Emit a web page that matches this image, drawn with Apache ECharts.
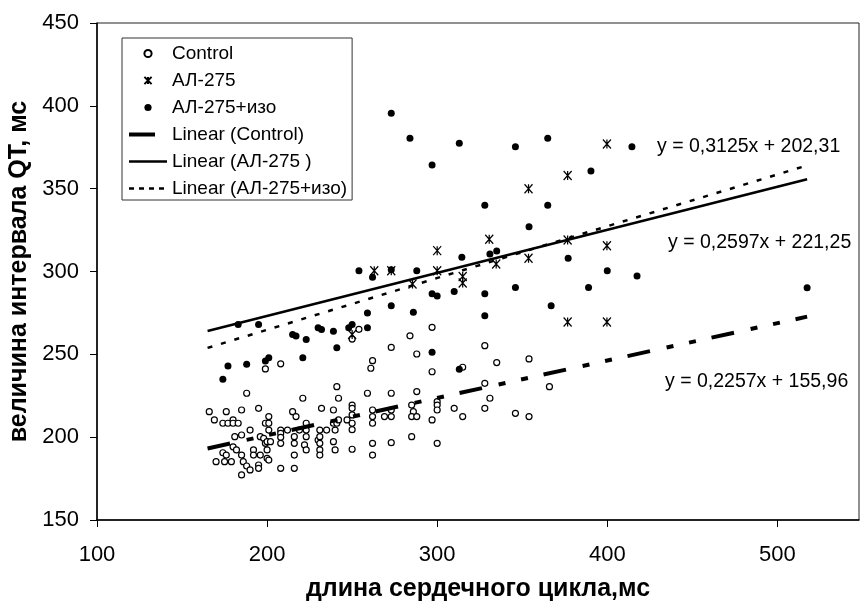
<!DOCTYPE html>
<html>
<head>
<meta charset="utf-8">
<style>
  html, body { margin: 0; padding: 0; background: #fff; }
  #chart { width: 863px; height: 604px; }
</style>
<script src="https://cdn.jsdelivr.net/npm/echarts@6/dist/echarts.min.js"></script>
</head>
<body>
<div id="chart"></div>
<script>
// точки [длина цикла, QT]
const controlPts = [
  [166,215.4],[169,210.4],[170,185.2],[174,208.4],[174,190.6],[175,185.2],[176,215.4],[176,189.2],[177,208.4],[179,185.2],
  [180,210.4],[180,208.4],[180,194.2],[181,200.3],[182,192.3],[183,208.4],[185,216.4],[185,201.3],[185,189.2],[185,177.2],
  [186,185.2],[188,226.5],[188,182.6],[190,204.3],[190,180.2],[192,192.3],[192,189.2],[195,217.4],[195,183.2],[195,181.2],
  [196,200.3],[196,189.2],[198,199.3],[199,208.4],[199,196.3],[200,197.3],[200,192.3],[200,187.2],[201,212.4],[201,208.4],
  [201,204.3],[201,186.2],[202,197.3],[208,204.3],[208,202.3],[208,199.9],[208,196.3],[208,181.2],[212,204.3],[215,215.4],
  [216,200.3],[216,196.3],[216,189.2],[216,181.2],[217,212.4],[219,204.3],[221,223.5],[222,195.3],[223,208.4],[223,204.3],
  [223,200.3],[223,192.3],[230,198.3],[231,204.3],[231,200.3],[231,196.3],[231,192.3],[231,189.2],[232,217.4],[235,204.3],
  [239,216.4],[239,208.4],[239,197.3],[240,204.3],[240,192.3],[241,208.4],[241,230.5],[242,223.5],[242,210.4],
  [199,241.2],[208,244.3],[247,210.4],[250,219.4],[250,217.4],[250,213.4],[250,208.4],[250,204.5],[250,192.7],[250,259.2],
  [254,265.1],[259,226.5],[261,241.6],[262,246.2],[262,216.4],[262,212.4],[262,208.4],[262,196.3],[262,189.2],[269,212.4],
  [273,226.5],[273,216.4],[273,212.4],[273,196.7],[273,254.2],[284,261.2],[285,219.4],[286,215.4],[285,212.4],[288,212.4],
  [285,200.3],[288,227.5],[288,250.2],[297,266.3],[297,239.5],[297,210.4],[300,221.4],[300,219.4],[300,216.4],[300,196.3],
  [310,217.4],[315,242.2],[315,212.4],[328,255.2],[328,232.5],[331,223.5],[328,217.4],[335,245],[346,214.4],[354,212.4],
  [354,247.2],[366,230.5]
];

const al275Pts = [
  [250,262],[263,300.5],[273,300.5],[285.5,292.5],[300,312.6],[300,300.5],[315,297],[315,293],[330.6,319.4],
  [334.7,304.5],[353.7,350],[353.7,308],[376.7,358],[376.7,319],[376.7,269.5],[399.8,377],[399.8,315.6],[399.8,269.5]
];

const al275IzoPts = [
  [174,235],[177,243],[183,268],[188,244],[195,268],[199,246],[201,248],[215,262],[217,261],[221,248],
  [223,259],[230,266],[232,265],[239,264],[241,254],[248,266],[250,268],[254,300.5],[259,275],[259,266],
  [262,296.5],[273,395.5],[273,301],[273,279.4],[284,380.4],[286,275.4],[288,300.5],[297,364.3],[297,286.5],[300,285.2],
  [297,251.2],[310,288],[313,377.4],[313,241],[314.5,308.6],[328,340],[328,286.5],[328,273.3],[331,310.6],[335,312.4],
  [346,375.3],[346,290.4],[354,327],[365,380.4],[365,340],[367,279.4],[377,308],[389,290.4],[390.4,360.7],[400,300.5],
  [414.5,375.3],[417.5,297.3],[517.5,290.2]
];

// линейные тренды из подписей на графике
const trendNames = ['Linear (Control)', 'Linear (АЛ-275 )', 'Linear (АЛ-275+изо)'];
const trendSlope = [0.2257, 0.2597, 0.3125];
const trendIntercept = [155.96, 221.25, 202.31];
const trendXRange = [165, 517.5];
const eqTexts = ['y = 0,2257x + 155,96', 'y = 0,2597x + 221,25', 'y = 0,3125x + 202,31'];

const FONT = "'Liberation Sans', Arial, sans-serif";

function trendLine(i) {
  return trendXRange.map(x => [x, trendSlope[i] * x + trendIntercept[i]]);
}

const chart = echarts.init(document.getElementById('chart'));

const pointSeries = (name, data, extra) => Object.assign({
  name: name,
  type: 'line',
  data: data,
  showSymbol: true,
  lineStyle: { width: 0 },
  silent: true,
  emphasis: { disabled: true },
  z: 3
}, extra);

const lineStyles = [
  { color: '#000', width: 4, type: [23, 17, 7, 16, 7, 16], cap: 'butt' },
  { color: '#000', width: 2.5, type: 'solid' },
  { color: '#000', width: 2.5, type: [5, 9], cap: 'butt' }
];

const noMarker = { color: 'transparent', borderColor: 'transparent', borderWidth: 0, opacity: 0 };

const option = {
  backgroundColor: '#fff',
  animation: false,
  textStyle: { fontFamily: FONT },
  grid: {
    left: 97, top: 23, right: 4, bottom: 84,
    containLabel: false,
    outerBoundsMode: 'none',
    show: true, borderColor: '#222', borderWidth: 1
  },
  xAxis: {
    type: 'value', min: 100, max: 548, interval: 100,
    axisLine: { onZero: false, lineStyle: { color: '#000', width: 1.5 } },
    axisTick: { length: 7, lineStyle: { color: '#000' } },
    axisLabel: { fontSize: 22, color: '#000', margin: 24, showMaxLabel: false, fontFamily: FONT },
    splitLine: { show: false },
    name: 'длина сердечного цикла,мс',
    nameLocation: 'middle', nameGap: 57,
    nameTextStyle: { fontSize: 25, fontWeight: 'bold', color: '#000', fontFamily: FONT }
  },
  yAxis: {
    type: 'value', min: 150, max: 450, interval: 50,
    axisLine: { onZero: false, lineStyle: { color: '#000', width: 1.5 } },
    axisTick: { length: 7, lineStyle: { color: '#000' } },
    axisLabel: { fontSize: 22, color: '#000', margin: 18, fontFamily: FONT },
    splitLine: { show: false },
    name: 'величина интервала QT, мс',
    nameLocation: 'middle', nameGap: 60,
    nameTextStyle: { fontSize: 25, fontWeight: 'bold', color: '#000', fontFamily: FONT }
  },
  legend: {
    orient: 'vertical', left: 122, top: 38,
    padding: [6, 5, 2, 5],
    itemWidth: 38, itemHeight: 9, itemGap: 8,
    backgroundColor: '#fff', borderColor: '#333', borderWidth: 1,
    selectedMode: false,
    textStyle: { fontSize: 19, color: '#000', fontFamily: FONT },
    data: [
      { name: 'Control' },
      { name: 'АЛ-275' },
      { name: 'АЛ-275+изо' },
      { name: trendNames[0], itemStyle: noMarker, lineStyle: { width: 4, type: [26, 20], cap: 'butt' } },
      { name: trendNames[1], itemStyle: noMarker, lineStyle: { width: 2.5, type: 'solid' } },
      { name: trendNames[2], itemStyle: noMarker, lineStyle: { width: 2.5, type: [5, 5], cap: 'butt' } }
    ]
  },
  graphic: [
    { type: 'text', x: 665, y: 382, style: { text: eqTexts[0], fontSize: 19.5, fontFamily: FONT, fill: '#000', verticalAlign: 'middle' } },
    { type: 'text', x: 668, y: 243, style: { text: eqTexts[1], fontSize: 19.5, fontFamily: FONT, fill: '#000', verticalAlign: 'middle' } },
    { type: 'text', x: 657, y: 147, style: { text: eqTexts[2], fontSize: 19.5, fontFamily: FONT, fill: '#000', verticalAlign: 'middle' } }
  ],
  series: [
    pointSeries('Control', controlPts, {
      symbol: 'circle', symbolSize: 6,
      itemStyle: { color: '#fff', borderColor: '#000', borderWidth: 1.2 }
    }),
    pointSeries('АЛ-275', al275Pts, {
      symbol: 'path://M0,0L8,9M8,0L0,9M4,0L4,9', symbolSize: [8, 9],
      itemStyle: { color: 'transparent', borderColor: '#000', borderWidth: 1.3 }
    }),
    pointSeries('АЛ-275+изо', al275IzoPts, {
      symbol: 'circle', symbolSize: 7,
      itemStyle: { color: '#000', borderColor: '#000', borderWidth: 0 }
    })
  ].concat(trendNames.map((name, i) => ({
    name: name,
    type: 'line',
    data: trendLine(i),
    symbol: 'none',
    silent: true,
    emphasis: { disabled: true },
    itemStyle: { color: '#000' },
    lineStyle: lineStyles[i],
    z: 5
  })))
};

chart.setOption(option);
</script>
</body>
</html>
